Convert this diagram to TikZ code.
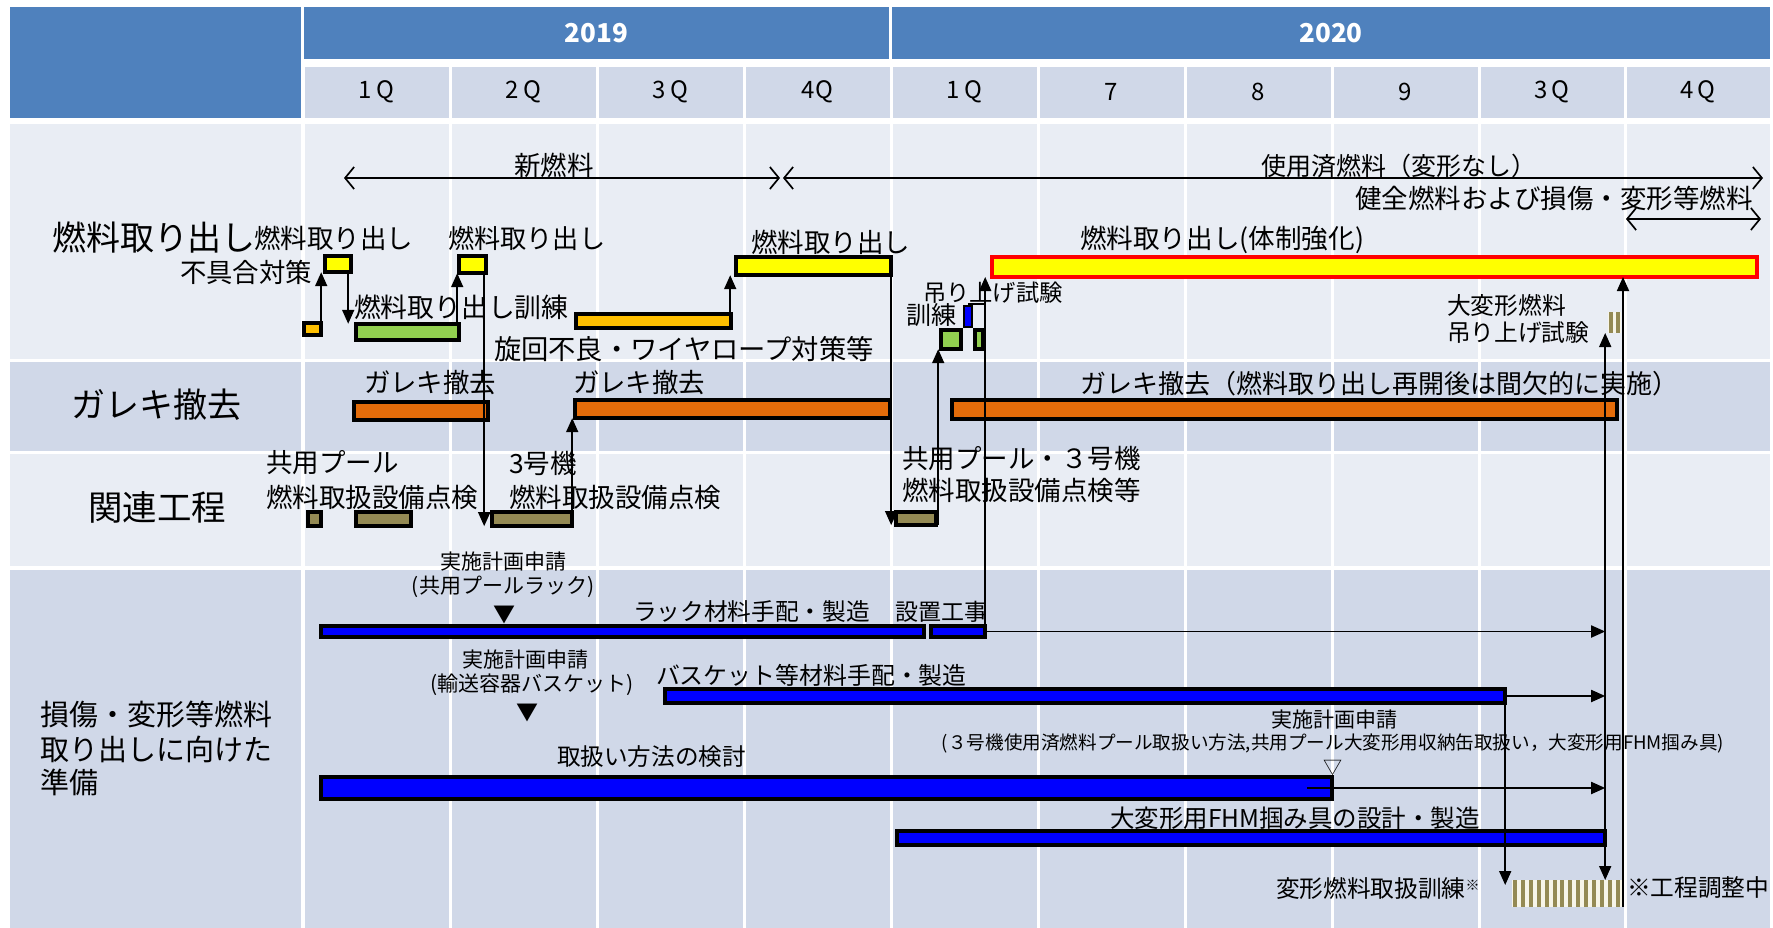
\documentclass[tikz,border=0pt]{standalone}
\usepackage{fontspec}
\setmainfont{Noto Sans CJK JP}
\usetikzlibrary{arrows.meta,calc}
\definecolor{hdr}{HTML}{4F81BD}
\definecolor{bandA}{HTML}{E9EDF4}
\definecolor{bandB}{HTML}{D0D8E8}
\definecolor{yel}{HTML}{FFFF00}
\definecolor{org}{HTML}{FFC000}
\definecolor{grn}{HTML}{92D050}
\definecolor{dor}{HTML}{E46C0A}
\definecolor{olv}{HTML}{948A54}
\definecolor{blu}{HTML}{0000FF}
\definecolor{redb}{HTML}{FF0000}
\definecolor{cream}{HTML}{F7F5E8}
\newcommand\fs[1]{\fontsize{#1pt}{#1pt}\selectfont}
\newcommand\mkbox[6]{\node[bx,#2,minimum width={(#5-#3-3.6)*1pt},minimum height={(#6-#4-3.6)*1pt}] (#1) at ({#3+1.8},{#4+1.8}) {};}
\begin{document}
\begin{tikzpicture}[x=1pt,y=-1pt,
  lb/.style={inner sep=0pt,outer sep=0pt,anchor=west,text=black},
  cb/.style={inner sep=0pt,outer sep=0pt,anchor=center,text=black},
  bx/.style={draw=black,line width=3.6pt,inner sep=0pt,outer sep=0pt,anchor=north west},
  con/.style={draw=black,line width=1.8pt,-{Triangle[length=14pt,width=12pt]}},
  thin/.style={draw=black,line width=1.8pt},
  barb/.style={draw=black,line width=1.7pt,{Straight Barb[length=9pt,width=22pt,line width=1.7pt]}-{Straight Barb[length=9pt,width=22pt,line width=1.7pt]}},
  yhdr/.style={fill=hdr,inner sep=0pt,outer sep=0pt,anchor=north west,text=white,font=\fs{26}\bfseries,minimum height=52pt}
]
\useasboundingbox (0,0) rectangle (1773,928);
\fill[white] (0,0) rectangle (1773,928);
% ---------- header ----------
\fill[hdr] (10,7) rectangle (301,118);
\node[yhdr,minimum width=585pt] (y19) at (304,7) {2019};
\node[yhdr,minimum width=878pt] (y20) at (892,7) {2020};
\foreach \a/\b/\t [count=\i] in {303/450/1\,Q,450/597/2\,Q,597/744/3\,Q,744/891/4Q,891/1038/1\,Q,1038/1185/7,1185/1332/8,1332/1479/9,1479/1625/3\,Q,1625/1771/4\,Q}{
  \fill[bandB] (\a+1.5,67) rectangle (\b-1.5,118);
  \node[cb,font=\fs{24}] (q\i) at ({(\a+\b)/2},92) {\t};
}
% ---------- row bands ----------
\foreach \ya/\yb/\col in {124/359/bandA,362/451/bandB,454/566/bandA,570/928/bandB}{
  \fill[\col] (10,\ya) rectangle (301,\yb);
  \foreach \a/\b in {303/450,450/597,597/744,744/891,891/1038,1038/1185,1185/1332,1332/1479,1479/1625,1625/1771}{
    \fill[\col] (\a+1.5,\ya) rectangle (\b-1.5,\yb);
  }
}
% ---------- row titles ----------
\node[lb,font=\fs{34}] (L1) at (52,237) {燃料取り出し};
\node[lb,font=\fs{34}] (L2) at (71,405) {ガレキ撤去};
\node[lb,font=\fs{34.5}] (L3) at (88,507) {関連工程};
\node[lb,font=\fs{29}] (L4a) at (40,715) {損傷・変形等燃料};
\node[lb,font=\fs{29}] (L4b) at (40,749) {取り出しに向けた};
\node[lb,font=\fs{29}] (L4c) at (40,782) {準備};
% ---------- bars ----------
\mkbox{y1}{fill=yel}{323}{254}{353}{274}
\mkbox{y2}{fill=yel}{457}{254}{488}{275}
\mkbox{ob}{fill=org}{302}{321}{323}{337}
\mkbox{g1}{fill=grn}{354}{322}{461}{342}
\mkbox{or1}{fill=org}{574}{312}{733}{330}
\mkbox{y3}{fill=yel}{734}{255}{893}{277}
\mkbox{gA}{fill=grn}{939}{328}{963}{351}
\node[draw=black,fill=blu,line width=2.4pt,inner sep=0pt,outer sep=0pt,anchor=north west,minimum width=8pt,minimum height=21pt] (bl) at (964,306) {};
\mkbox{gB}{fill=grn}{973}{328}{985}{351}
\node[draw=redb,fill=yel,line width=4pt,inner sep=0pt,outer sep=0pt,anchor=north west,minimum width=765pt,minimum height=20pt] (Y4) at (992,257) {};
\mkbox{d1}{fill=dor}{352}{400}{490}{422}
\mkbox{d2}{fill=dor}{573}{398}{892}{420}
\mkbox{d3}{fill=dor}{950}{398}{1619}{421}
\mkbox{o1}{fill=olv}{306}{510}{323}{528}
\mkbox{o2}{fill=olv}{354}{510}{413}{528}
\mkbox{o3}{fill=olv}{490}{510}{574}{528}
\mkbox{o4}{fill=olv}{894}{510}{938}{527}
\mkbox{rk1}{fill=blu}{319}{624}{926}{639}
\mkbox{rk2}{fill=blu}{929}{624}{987}{639}
\mkbox{bk}{fill=blu}{663}{687}{1507}{705}
\mkbox{hd}{fill=blu}{319}{775}{1334}{801}
\mkbox{fhm}{fill=blu}{895}{829}{1607}{847}
% hatched boxes
\node[fill=cream,inner sep=0pt,outer sep=0pt,anchor=north west,minimum width=111pt,minimum height=27pt] (hb) at (1512,880) {};
\foreach \i in {0,...,13}{\fill[olv] (1513+\i*7.9,880) rectangle ++(4,27);}
\node[fill=cream,inner sep=0pt,outer sep=0pt,anchor=north west,minimum width=13pt,minimum height=21pt] (st) at (1608,312) {};
\fill[olv] (1609,312) rectangle (1613,333);
\fill[olv] (1616,312) rectangle (1620,333);
% ---------- labels ----------
\node[lb,font=\fs{26.5}] (t1) at (254,238) {燃料取り出し};
\node[lb,font=\fs{26.4}] (t2) at (180,272) {不具合対策};
\node[lb,font=\fs{26.2}] (t3) at (448,238) {燃料取り出し};
\node[lb,font=\fs{26.8}] (t4) at (354,307) {燃料取り出し訓練};
\node[lb,font=\fs{26.5}] (t5) at (751,242) {燃料取り出し};
\node[lb,font=\fs{27.3}] (t6) at (494,349) {旋回不良・ワイヤロープ対策等};
\node[lb,font=\fs{26.5}] (t7) at (514,165) {新燃料};
\node[lb,font=\fs{25}] (t8) at (1261,166) {使用済燃料（変形なし）};
\node[lb,font=\fs{26.5}] (t9) at (1355,198) {健全燃料および損傷・変形等燃料};
\node[lb,font=\fs{26.6}] (t10) at (1080,240) {燃料取り出し(体制強化)};
\node[lb,font=\fs{23.3}] (t11) at (923,293) {吊り上げ試験};
\node[lb,font=\fs{25}] (t12) at (906,315) {訓練};
\node[lb,font=\fs{26.4}] (t13) at (364,383) {ガレキ撤去};
\node[lb,font=\fs{26.4}] (t14) at (573,383) {ガレキ撤去};
\node[lb,font=\fs{26}] (t15) at (1080,384) {ガレキ撤去（燃料取り出し再開後は間欠的に実施）};
\node[lb,font=\fs{26.5}] (t16a) at (266,463) {共用プール};
\node[lb,font=\fs{26.5}] (t16b) at (266,497) {燃料取扱設備点検};
\node[lb,font=\fs{26.5}] (t17a) at (509,463) {3号機};
\node[lb,font=\fs{26.5}] (t17b) at (509,497) {燃料取扱設備点検};
\node[lb,font=\fs{26.5}] (t18a) at (902,458) {共用プール・３号機};
\node[lb,font=\fs{26.5}] (t18b) at (902,490) {燃料取扱設備点検等};
\node[cb,font=\fs{21}] (s1) at (503,562) {実施計画申請};
\node[cb,font=\fs{21}] (s1b) at (503,587) {(共用プールラック)};
\node[cb,font=\fs{22}] (m1) at (504,615) {▼};
\node[cb,font=\fs{21}] (s2) at (525,660) {実施計画申請};
\node[cb,font=\fs{21}] (s2b) at (532,685) {(輸送容器バスケット)};
\node[cb,font=\fs{22}] (m2) at (527,713) {▼};
\node[lb,font=\fs{23.7}] (t19) at (633,612) {ラック材料手配・製造};
\node[lb,font=\fs{23}] (t20) at (895,612) {設置工事};
\node[lb,font=\fs{23.9}] (t21) at (656,675) {バスケット等材料手配・製造};
\node[lb,font=\fs{23.6}] (t22) at (557,757) {取扱い方法の検討};
\node[cb,font=\fs{21}] (s3) at (1334,720) {実施計画申請};
\node[cb,font=\fs{18.6}] (s3b) at (1333,743) {(３号機使用済燃料プール取扱い方法,共用プール大変形用収納缶取扱い，大変形用FHM掴み具)};
\node[cb,font=\fs{19}] (m3) at (1333,768) {▽};
\node[lb,font=\fs{24.5}] (t23) at (1110,818) {大変形用FHM掴み具の設計・製造};
\node[lb,font=\fs{23.7}] (t24) at (1276,888) {変形燃料取扱訓練{\fs{14}\raisebox{7pt}{※}}};
\node[lb,font=\fs{23.7}] (t25) at (1627,888) {※工程調整中};
\node[lb,font=\fs{23.8}] (t26) at (1447,305) {大変形燃料};
\node[lb,font=\fs{23.7}] (t27) at (1447,333) {吊り上げ試験};
% ---------- period arrows ----------
\coordinate (nA) at (344,178);
\coordinate (nB) at (780,178);
\coordinate (uA) at (783,178);
\coordinate (uB) at (1763,178);
\coordinate (dA) at (1626,219);
\coordinate (dB) at (1761,219);
\draw[barb] (nA) -- (nB);
\draw[barb] (uA) -- (uB);
\draw[barb] (dA) -- (dB);
% ---------- connectors ----------
\draw[con] (ob.north east) -- (ob.north east |- y1.south);
\draw[con] ([xshift=-3pt]y1.south east) -- ([xshift=-3pt]y1.south east |- g1.north);
\draw[con] ([xshift=-2pt]g1.north east) -- ([xshift=-2pt]g1.north east |- y2.south);
\draw[con] ([xshift=-2pt]y2.south east) -- ([xshift=-2pt]y2.south east |- o3.south);
\draw[con] (o3.north east) -- (o3.north east |- d2.south);
\draw[con] ([xshift=-1pt]or1.north east) -- ([xshift=-1pt]or1.north east |- y3.south);
\draw[con] (y3.south east) -- (y3.south east |- o4.south);
\draw[con] ([xshift=2pt]o4.south east) -- ([xshift=2pt]o4.south east |- gA.south);
\draw[thin] ([yshift=2pt]bl.north) -- ([yshift=2pt]bl.north -| rk2.east);
\draw[con] (rk2.north east) -- (rk2.north east |- Y4.south);
\draw[con] (rk2.east) -- (rk2.east -| fhm.east);
\draw[con] (bk.east) -- (bk.east -| fhm.east);
\draw[con] ([xshift=-25pt]hd.east) -- (hd.east -| fhm.east);
\draw[con] (fhm.north east) -- (fhm.north east |- st.south);
\draw[con] (fhm.south east) -- (fhm.south east |- hb.north);
\draw[con] (bk.south east) -- ($(bk.south east |- hb.north)+(0,5)$);
\draw[con] (hb.south east) -- (hb.south east |- Y4.south);
\end{tikzpicture}
\end{document}
